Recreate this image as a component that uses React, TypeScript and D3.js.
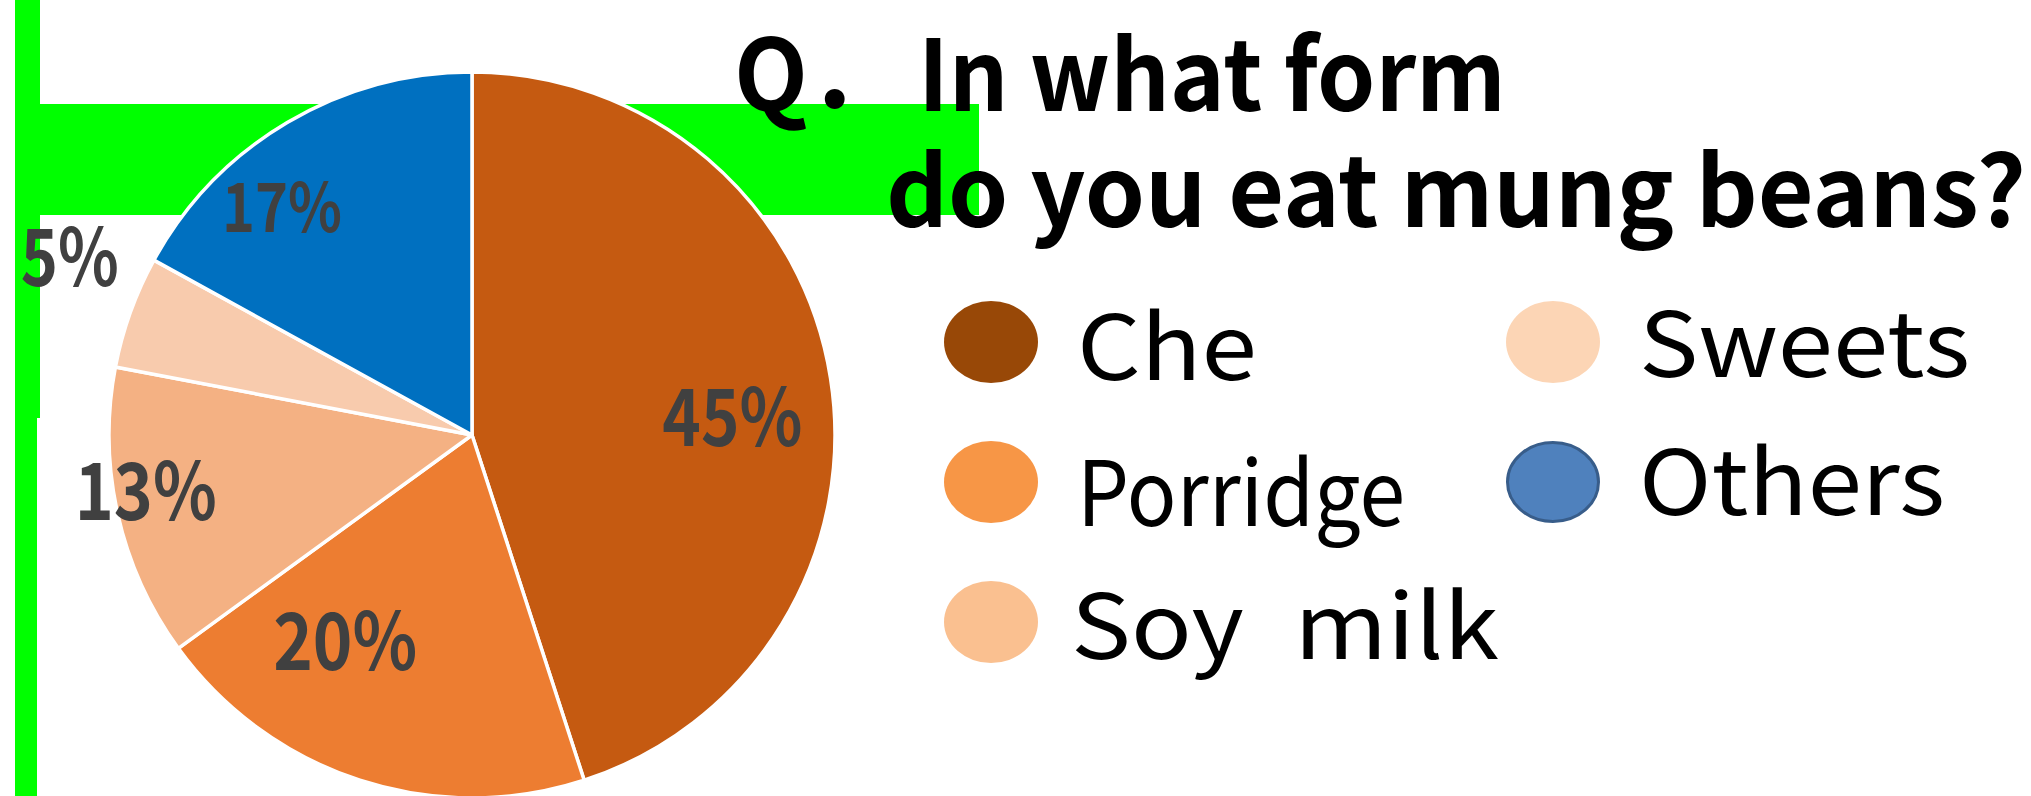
import React from 'react';
import * as d3 from 'd3';

// data
const categories = ['Che', 'Porridge', 'Soy\u2002milk', 'Sweets', 'Others'];
const shares = [45, 20, 13, 5, 17];

// styles
const sliceColors = ['#C55A11', '#ED7D31', '#F4B183', '#F8CBAD', '#0070C0'];
const legendColors = ['#984807', '#F79646', '#FAC090', '#FCD5B5', '#4F81BD'];
const legendStroke = [null, null, null, null, '#385D8A'];

// label placement (Excel best-fit look): radius from centre, angle nudge in degrees, font size
const labelRadius = [261, 242, 331, 440, 297];
const labelNudge = [5, 13.6, 2.9, 4.1, -9.2];
const labelSize = [79, 79, 79, 79, 68];
const labelWidth = [140, 144, 142, 98, 120];

// legend layout
const legendCols = [991, 1553];
const legendRows = [342, 482, 622];
const legendTextWidth = [180, 328, 428, 331, 306];
const legendBaseline = [38, 44, 37, 35, 33];

const W = 2031;
const H = 796;
const cx = 472;
const cy = 435;
const radius = 363;

const App: React.FC = () => {
  const pie = d3
    .pie<number>()
    .sort(null)
    .value(d => d);
  const arcs = pie(shares);
  const arc = d3.arc<d3.PieArcDatum<number>>().innerRadius(0).outerRadius(radius);

  const fontJP = '"Noto Sans CJK JP", "Noto Sans", sans-serif';

  return (
    <svg
      width={W}
      height={H}
      style={{ position: 'absolute', left: 0, top: 0, background: '#fff' }}
    >
      {/* green frame bits behind the chart */}
      <rect x={15} y={0} width={25} height={418} fill="#00FF00" />
      <rect x={15} y={418} width={22} height={H - 418} fill="#00FF00" />
      <rect x={40} y={104} width={939} height={111} fill="#00FF00" />

      {/* pie */}
      <g transform={`translate(${cx},${cy})`}>
        {arcs.map((a, i) => (
          <path
            key={categories[i]}
            d={arc(a) || ''}
            fill={sliceColors[i]}
            stroke="#fff"
            strokeWidth={3.5}
            strokeLinejoin="round"
          />
        ))}
        {arcs.map((a, i) => {
          const mid = (a.startAngle + a.endAngle) / 2 + (labelNudge[i] * Math.PI) / 180;
          const x = labelRadius[i] * Math.sin(mid);
          const y = -labelRadius[i] * Math.cos(mid);
          return (
            <text
              key={'l' + i}
              x={x}
              y={y + labelSize[i] * 0.366}
              textAnchor="middle"
              fontFamily={fontJP}
              fontWeight={700}
              fontSize={labelSize[i]}
              fill="#404040"
              textLength={labelWidth[i]}
              lengthAdjust="spacingAndGlyphs"
            >
              {Math.round(a.value) + '%'}
            </text>
          );
        })}
      </g>

      {/* title */}
      <g fontFamily={fontJP} fontWeight={700} fill="#000">
        <text x={734} y={111} fontSize={100} textLength={170} lengthAdjust="spacingAndGlyphs">
          Q．
        </text>
        <text x={918} y={111} fontSize={98} textLength={588} lengthAdjust="spacingAndGlyphs">
          In what form
        </text>
        <text x={886} y={227} fontSize={98} textLength={1140} lengthAdjust="spacingAndGlyphs">
          do you eat mung beans?
        </text>
      </g>

      {/* legend */}
      <g fontFamily={fontJP} fontWeight={400} fill="#000">
        {categories.map((c, i) => {
          const col = i < 3 ? 0 : 1;
          const row = i < 3 ? i : i - 3;
          const ex = legendCols[col];
          const ey = legendRows[row];
          return (
            <g key={'lg' + i}>
              <ellipse
                cx={ex}
                cy={ey}
                rx={legendStroke[i] ? 45.5 : 47}
                ry={legendStroke[i] ? 39.5 : 41}
                fill={legendColors[i]}
                stroke={legendStroke[i] || 'none'}
                strokeWidth={3}
              />
              <text
                x={ex + (i === 2 ? 80 : 86)}
                y={ey + legendBaseline[i]}
                fontSize={90}
                textLength={legendTextWidth[i]}
                lengthAdjust="spacingAndGlyphs"
              >
                {c}
              </text>
            </g>
          );
        })}
      </g>
    </svg>
  );
};

export default App;
